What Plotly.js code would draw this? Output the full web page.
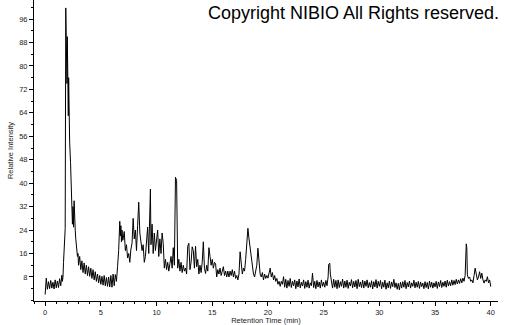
<!DOCTYPE html>
<html>
<head>
<meta charset="utf-8">
<script src="https://cdn.plot.ly/plotly-3.0.1.min.js"></script>
<style>html,body{margin:0;padding:0;background:#fff;}#chart{width:505px;height:325px;}</style>
</head>
<body>
<div id="chart"></div>
<script>
// Retention time (min) and relative intensity (%)
const timeA = [0.0,0.1,0.2,0.3,0.4,0.5,0.6,0.7,0.8,0.9,1.0,1.1,1.2,1.3,1.4,1.5,1.55,1.6,1.65,1.7,1.75,1.8,1.85,1.9,1.93,1.96,1.99,2.02,2.05,2.08,2.11,2.14,2.2,2.28,2.35,2.4,2.45,2.5,2.55,2.6,2.65,2.7,2.75,2.8,2.85,2.9,2.95];
const intensityA = [2.0,7.6,3.8,6.4,4.0,6.8,4.2,6.2,3.9,7.0,4.3,6.6,4.4,7.4,5.0,8.6,6.5,8.0,13,20,23.5,24.5,99.8,89,93,74,90,67,84,63,76,61,54,47,36,35,26,32,25,34,25,24,21,18,19,15,16];

const timeB = [3.0,3.1,3.2,3.3,3.4,3.5,3.6,3.7,3.8,3.9,4.0,4.1,4.2,4.3,4.4,4.5,4.6,4.7,4.8,4.9,5.0,5.1,5.2,5.3,5.4,5.5,5.6,5.7,5.8,5.9,6.0,6.1,6.2,6.3,6.4,6.5,6.6,6.7,6.75,6.8,6.85,6.9,6.97];
const intensityB = [12,15,10.5,13.5,9.5,12.8,9,12,8.5,11.5,8.2,11,7.5,10.5,7,9.8,6.5,9,6,8.5,5.5,8.2,5.2,8.5,5,7.8,4.8,8,4.6,8.5,4.5,9,5,8.8,6.5,11.5,17,27,22,25.5,20,24,20.5];

const timeC = [7.0,7.1,7.2,7.3,7.4,7.5,7.6,7.7,7.8,7.9,8.0,8.1,8.2,8.3,8.4,8.5,8.6,8.7,8.8,8.9,9.0,9.1,9.2,9.3,9.4,9.45,9.5,9.6,9.7,9.8,9.9,10.0,10.1,10.2,10.3,10.4,10.5,10.6,10.7,10.8,10.9,11.0,11.1,11.2,11.3,11.4,11.5,11.6,11.7,11.8,11.85,11.9,12.0,12.1,12.2,12.3,12.4,12.5,12.6,12.7,12.8,12.9,13.0,13.1,13.2,13.3,13.4,13.5,13.6,13.7,13.8,13.9,14.0,14.1,14.2,14.3,14.4,14.5,14.6,14.7,14.8,14.9];
const intensityC = [21,23.5,17,19,14.5,16,13,17.5,19.5,28,21,24,17,25.5,33.5,23,20,17,19,13,15,19.5,25,16,30,38,19,26,16,23,17,20,24,15,21,16,23,19.5,11,14,10.5,13,10,12.5,15,11,18,12,42,41,14,11,14,10,13,9.5,12,10,11,9,18.5,19.5,10.5,13,18.3,17,11,18.5,11.5,14,9,12,9.5,13,20,11,9.2,12,10,18,15,12];

const timeD = [15.0,15.1,15.2,15.3,15.4,15.5,15.6,15.7,15.8,15.9,16.0,16.1,16.2,16.3,16.4,16.5,16.6,16.7,16.8,16.9,17.0,17.1,17.2,17.3,17.4,17.5,17.6,17.7,17.8,17.9,18.0,18.1,18.2,18.3,18.4,18.5,18.6,18.7,18.8,18.9,19.0,19.1,19.2,19.3,19.4,19.5,19.6,19.7,19.8,19.9,20.0,20.1,20.2,20.3,20.4,20.5,20.6,20.7,20.8,20.9,21.0,21.1,21.2,21.3,21.4];
const intensityD = [14,11,13,12.5,8,10.5,9,11,8.5,10.5,11.5,8.5,10,8,10,8,10,8.5,10.5,8,10,7.5,8.5,7,9,16.6,12.5,9,11,10,14,20.5,24.6,21,17.5,14,11,9,8,10.5,12,17.8,11.5,9,8,9.5,7,9,7.5,8.5,7.6,9.5,11,8,9.5,7,8.5,6.5,7.5,5.5,6.5,4.8,6.5,5.5,8.1];

const timeE = [21.5,21.6,21.7,21.8,21.9,22.0,22.1,22.2,22.3,22.4,22.5,22.6,22.7,22.8,22.9,23.0,23.1,23.2,23.3,23.4,23.5,23.6,23.7,23.8,23.9,24.0,24.1,24.2,24.3,24.4,24.5,24.6,24.7,24.8,24.9,25.0,25.1,25.2,25.3,25.4,25.45,25.55,25.6,25.7,25.8,25.9,26.0,26.1,26.2,26.3,26.4,26.5,26.6,26.7,26.8,26.9,27.0,27.1,27.2,27.3,27.4,27.5,27.6,27.7,27.8,27.9,28.0,28.1,28.2,28.3,28.4,28.5,28.6,28.7,28.8,28.9,29.0,29.1,29.2,29.3,29.4,29.5,29.6,29.7,29.8,29.9,30.0,30.1,30.2,30.3,30.4,30.5,30.6,30.7,30.8,30.9,31.0,31.1,31.2,31.3,31.4,31.5,31.6,31.7,31.8,31.9];
const intensityE = [4.5,7.2,4.2,6.8,4.8,7.5,4.4,6.5,5.0,7.0,4.0,6.6,4.6,7.3,4.3,6.2,4.9,7.0,4.1,6.4,4.5,6.9,4.2,6.0,5.0,9.3,4.4,6.5,4.0,6.8,4.6,6.3,4.2,7.0,4.8,6.2,4.5,6.8,5.0,8.0,12.3,12.7,9.0,6.5,4.2,7.2,4.5,6.8,4.0,7.0,4.4,6.4,4.8,7.3,4.2,6.6,4.5,6.9,4.1,6.2,4.9,7.1,4.3,6.5,4.6,6.8,4.0,7.2,4.7,6.3,4.4,6.9,4.2,6.6,4.8,7.0,4.3,6.1,4.5,6.7,3.9,6.4,4.6,7.1,4.2,6.5,4.8,6.8,4.0,6.2,4.5,6.9,3.8,6.0,4.3,6.6,4.1,6.3,4.7,7.2,4.4,6.0,3.8,5.8,3.6,6.2];

const timeF = [32.0,32.1,32.2,32.3,32.4,32.5,32.6,32.7,32.8,32.9,33.0,33.1,33.2,33.3,33.4,33.5,33.6,33.7,33.8,33.9,34.0,34.1,34.2,34.3,34.4,34.5,34.6,34.7,34.8,34.9,35.0,35.1,35.2,35.3,35.4,35.5,35.6,35.7,35.8,35.9,36.0,36.1,36.2,36.3,36.4,36.5,36.6,36.7,36.8,36.9,37.0,37.1,37.2,37.3,37.4,37.5,37.6,37.7,37.8,37.85,37.9,38.0,38.1,38.2,38.3,38.4,38.5,38.6,38.7,38.8,38.9,39.0,39.1,39.2,39.3,39.4,39.5,39.6,39.7,39.8,39.9,40.0];
const intensityF = [4.2,6.4,4.5,6.8,4.0,6.1,4.6,6.6,4.2,6.0,4.8,6.9,4.3,6.2,4.5,6.5,4.1,6.3,4.7,5.9,4.0,6.4,4.4,6.1,3.9,6.6,4.5,6.2,4.2,6.0,4.6,6.5,4.1,6.3,4.7,6.8,4.4,6.2,4.8,6.6,4.5,6.9,4.9,6.4,5.0,7.0,5.2,6.8,5.4,7.2,5.6,7.0,5.8,7.4,6.0,7.6,6.5,8.5,19.3,18,8.7,7.5,8,6.5,7,6,8.5,11,9,7,8,9.8,7.5,9.3,7,5.9,7,6.5,8.1,6,7,4.7];

const xTickVals = [0,5,10,15,20,25,30,35,40];
const yTickVals = [8,16,24,32,40,48,56,64,72,80,88,96];

const xs = [].concat(timeA, timeB, timeC, timeD, timeE, timeF);
const ys = [].concat(intensityA, intensityB, intensityC, intensityD, intensityE, intensityF);

const tickFont = {family: 'Liberation Sans, Arial, sans-serif', size: 7.5, color: '#222'};

Plotly.newPlot('chart', [{
  x: xs, y: ys, type: 'scatter', mode: 'lines',
  line: {color: '#000', width: 1},
  hoverinfo: 'skip'
}], {
  width: 505, height: 325,
  margin: {l: 34, r: 7, t: 0, b: 24, pad: 0},
  paper_bgcolor: '#fff', plot_bgcolor: '#fff',
  showlegend: false,
  xaxis: {
    range: [-1.0, 40.65], showgrid: false, zeroline: false,
    showline: true, linecolor: '#000', linewidth: 1,
    ticks: 'outside', ticklen: 4, tickcolor: '#000', tickwidth: 1,
    tickmode: 'array', tickvals: xTickVals, ticktext: xTickVals.map(String),
    tickfont: tickFont,
    minor: {tickmode: 'linear', tick0: 0, dtick: 1, ticks: 'outside', ticklen: 2, tickcolor: '#000', showgrid: false},
    title: {text: 'Retention Time (min)', font: tickFont, standoff: 3},
    automargin: false
  },
  yaxis: {
    range: [-0.2, 102.5], showgrid: false, zeroline: false,
    showline: true, linecolor: '#000', linewidth: 1,
    ticks: 'outside', ticklen: 4, tickcolor: '#000', tickwidth: 1,
    tickmode: 'array', tickvals: yTickVals, ticktext: yTickVals.map(String),
    tickfont: tickFont,
    minor: {tickmode: 'linear', tick0: 0, dtick: 4, ticks: 'outside', ticklen: 2, tickcolor: '#000', showgrid: false},
    title: {text: 'Relative Intensity', font: tickFont, standoff: 4},
    automargin: false
  },
  annotations: [{
    text: 'Copyright NIBIO All Rights reserved.',
    xref: 'paper', yref: 'paper', x: 1.0, y: 1.0, xshift: 3, yshift: -1,
    xanchor: 'right', yanchor: 'top', showarrow: false,
    font: {family: 'Liberation Sans, Arial, sans-serif', size: 18, color: '#000'}
  }]
}, {staticPlot: true, displayModeBar: false});
</script>
</body>
</html>
